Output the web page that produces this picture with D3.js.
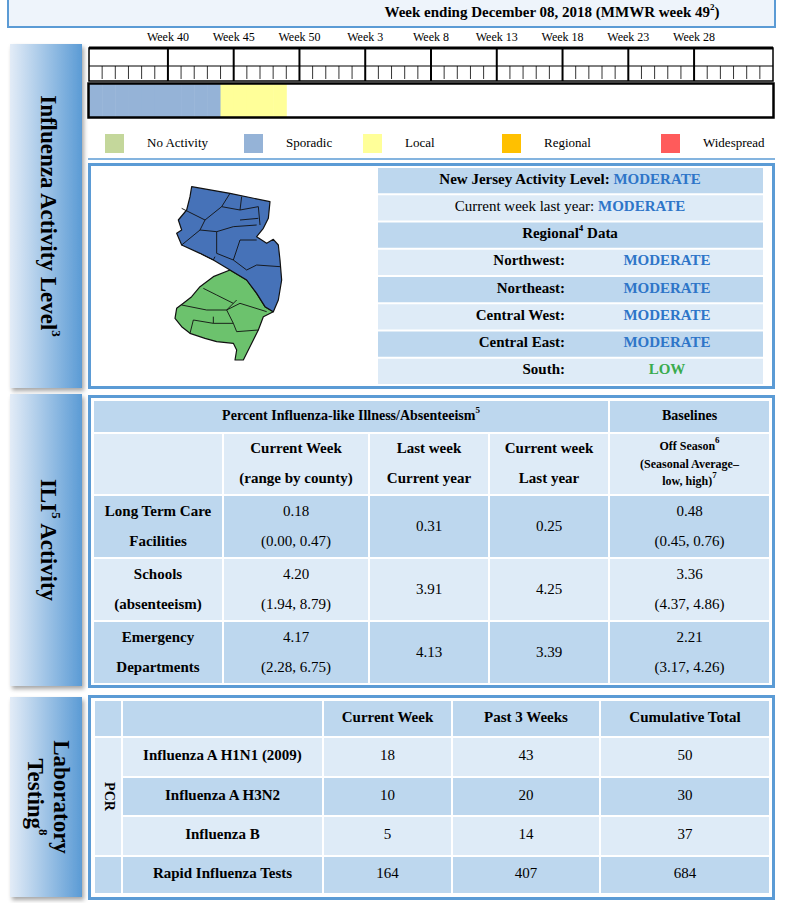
<!DOCTYPE html>
<html><head><meta charset="utf-8">
<script src="https://cdn.jsdelivr.net/npm/d3@7"></script>
<style>body{margin:0;background:#fff}svg{display:block;font-family:"Liberation Serif","Times New Roman",serif}</style>
</head><body>
<script>
// ---- data ----
const weekLabels = ["Week 40","Week 45","Week 50","Week 3","Week 8","Week 13","Week 18","Week 23","Week 28"];
const weekLabelIndex = [6,11,16,21,26,31,36,41,46];
const weeklyActivity = ["Sporadic","Sporadic","Sporadic","Sporadic","Sporadic","Sporadic","Sporadic","Sporadic","Sporadic","Sporadic","Local","Local","Local","Local","Local"];
const activityLevels = ["No Activity","Sporadic","Local","Regional","Widespread"];
const activityColors = ["#c4d79b","#95b3d7","#ffff99","#ffc000","#ff5b5b"];
const regions = ["Northwest:","Northeast:","Central West:","Central East:","South:"];
const regionLevels = ["MODERATE","MODERATE","MODERATE","MODERATE","LOW"];
const iliRows = [["Long Term Care","Facilities"],["Schools","(absenteeism)"],["Emergency","Departments"]];
const iliCurrent = ["0.18","4.20","4.17"];
const iliRange = ["(0.00, 0.47)","(1.94, 8.79)","(2.28, 6.75)"];
const iliLastWeek = ["0.31","3.91","4.13"];
const iliLastYear = ["0.25","4.25","3.39"];
const iliBaseline = ["0.48","3.36","2.21"];
const iliBaseRange = ["(0.45, 0.76)","(4.37, 4.86)","(3.17, 4.26)"];
const labTests = ["Influenza A H1N1 (2009)","Influenza A H3N2","Influenza B","Rapid Influenza Tests"];
const labCurrent = [18,10,5,164];
const labPast3 = [43,20,14,407];
const labCumulative = [50,30,37,684];
// rough map outlines (source pixel space)
const northOutline = [[575,80],[690,100],[810,125],[805,175],[790,205],[770,230],[800,250],[820,238],[835,255],[840,300],[845,360],[835,420],[820,455],[795,440],[770,400],[740,360],[690,330],[640,300],[600,280],[545,255],[530,220],[545,210],[535,180],[560,150],[570,110]];
const southOutline = [[690,330],[740,360],[770,400],[795,440],[820,455],[790,470],[775,510],[760,540],[745,570],[730,600],[705,600],[710,570],[700,550],[650,545],[615,535],[570,520],[545,500],[525,475],[530,445],[550,430],[575,410],[600,380],[640,350]];
const countyLines = [
 [[545,145],[615,180],[600,210],[545,255]],[[615,180],[665,140],[690,100]],[[665,140],[720,150],[725,110]],
 [[600,210],[650,215],[700,200],[770,195]],[[650,215],[650,280],[700,300],[720,240],[770,240]],
 [[720,150],[775,140],[780,195]],[[720,180],[775,175]],[[700,300],[740,330]],[[740,330],[770,315],[840,320]],
 [[600,280],[640,300],[645,290]],
 [[610,385],[650,405],[700,430]],[[545,435],[620,450],[680,450],[710,420]],[[680,450],[720,430],[800,455]],
 [[570,520],[580,480],[640,490],[640,470]],[[700,490],[710,515],[775,510]],[[700,490],[680,450]],[[640,490],[700,490]]
];

const W = 788, H = 903;
const dark = "#bdd7ee", light = "#deebf7", blue = "#5b9bd5", valBlue = "#2e75c8", green = "#3aab4e";
const svg = d3.select("body").append("svg").attr("width", W).attr("height", H);
const defs = svg.append("defs");
const grad = defs.append("linearGradient").attr("id","tab");
grad.append("stop").attr("offset","0%").attr("stop-color","#e3ecf7");
grad.append("stop").attr("offset","100%").attr("stop-color","#5b9bd5");
const sh = defs.append("filter").attr("id","sh").attr("x","-10%").attr("y","-10%").attr("width","130%").attr("height","130%");
sh.append("feDropShadow").attr("dx",2).attr("dy",3).attr("stdDeviation",2).attr("flood-opacity",0.35);

// helper for text with superscript
function txt(g, x, y, parts, opt = {}) {
  const size = opt.size || 15;
  const supSize = opt.supSize || 9, rise = opt.rise || 6;
  const t = g.append("text").attr("x", x).attr("y", y)
    .attr("text-anchor", opt.anchor || "middle").attr("dominant-baseline","middle")
    .style("font-size", size + "px").style("font-weight", opt.bold ? "bold" : "normal");
  let raised = false;
  parts.forEach(p => {
    let s;
    if (typeof p === "string") s = t.append("tspan").text(p);
    else if (p.sup) { s = t.append("tspan").style("font-size", supSize + "px").text(p.sup); s.attr("dy", -rise); raised = true; return; }
    else s = t.append("tspan").attr("fill", p.color).style("font-weight", p.bold ? "bold" : null).text(p.t);
    if (raised) { s.attr("dy", rise); raised = false; }
  });
  return t;
}
function cell(g, x0, y0, x1, y1, fill) {
  g.append("rect").attr("x", x0 + 1).attr("y", y0 + 1).attr("width", x1 - x0 - 2).attr("height", y1 - y0 - 2).attr("fill", fill);
}

// header
svg.append("rect").attr("x",8).attr("y",-2).attr("width",767).attr("height",29).attr("fill","#eef4fb").attr("stroke",blue).attr("stroke-width",2);
txt(svg, 552, 14, ["Week ending December 08, 2018 (MMWR week 49", {sup:"2"}, ")"], {bold:true, size:15});

// side tabs
const tabs = [{y0:44,y1:388,lines:[["Influenza Activity Level",{sup:"3"}]]},
              {y0:394,y1:686,lines:[["ILI",{sup:"5"}," Activity"]]},
              {y0:697,y1:897,lines:[["Laboratory"],["Testing",{sup:"8"}]]}];
tabs.forEach(tb => {
  svg.append("rect").attr("x",10).attr("y",tb.y0).attr("width",72).attr("height",tb.y1-tb.y0).attr("fill","url(#tab)").attr("filter","url(#sh)");
  const cy = (tb.y0 + tb.y1) / 2;
  tb.lines.forEach((ln, i) => {
    const off = (i - (tb.lines.length - 1) / 2) * -26;
    const g = svg.append("g").attr("transform", `translate(${46 + off},${cy}) rotate(90)`);
    txt(g, 0, 0, ln, {bold:true, size:23, supSize:13, rise:9});
  });
});

// timeline
const xw = d3.scaleLinear().domain([0, 52]).range([89, 773]);
const tl = svg.append("g");
tl.selectAll("text.wk").data(weekLabels).join("text").attr("class","wk")
  .attr("x",(d,i)=>xw(weekLabelIndex[i])).attr("y",41).attr("text-anchor","middle").style("font-size","12px").text(d=>d);
tl.append("rect").attr("x",xw(0)).attr("y",48).attr("width",xw(52)-xw(0)).attr("height",33).attr("fill","#fff").attr("stroke","#000").attr("stroke-width",1.5);
tl.append("line").attr("x1",xw(0)).attr("x2",xw(52)).attr("y1",48).attr("y2",48).attr("stroke","#000").attr("stroke-width",3);
tl.append("line").attr("x1",xw(0)).attr("x2",xw(52)).attr("y1",66).attr("y2",66).attr("stroke","#000").attr("stroke-width",1);
tl.selectAll("line.minor").data(d3.range(1,52)).join("line").attr("class","minor")
  .attr("x1",d=>xw(d)).attr("x2",d=>xw(d)).attr("y1",d=>weekLabelIndex.includes(d)?48:66).attr("y2",d=>weekLabelIndex.includes(d)?81:79)
  .attr("stroke","#000").attr("stroke-width",d=>weekLabelIndex.includes(d)?2:0.8);
tl.selectAll("rect.act").data(weeklyActivity).join("rect").attr("class","act")
  .attr("x",(d,i)=>xw(i)).attr("y",84).attr("width",xw(1)-xw(0)+0.5).attr("height",33)
  .attr("fill",d=>activityColors[activityLevels.indexOf(d)]);
tl.append("rect").attr("x",xw(0)-0.5).attr("y",83.5).attr("width",xw(52)-xw(0)+1).attr("height",34).attr("fill","none").attr("stroke","#000").attr("stroke-width",2.5);

// legend
const legX = [105,244,363,502,661];
const leg = svg.append("g");
leg.selectAll("rect").data(activityLevels).join("rect").attr("x",(d,i)=>legX[i]).attr("y",134).attr("width",19).attr("height",19).attr("fill",(d,i)=>activityColors[i]);
leg.selectAll("text").data(activityLevels).join("text").attr("x",(d,i)=>legX[i]+42).attr("y",144).attr("dominant-baseline","middle").style("font-size","13px").text(d=>d);
svg.append("line").attr("x1",88).attr("x2",775).attr("y1",159).attr("y2",159).attr("stroke",blue).attr("stroke-width",1.5);

// panels
[[88,163,687,226],[88,395,687,293],[88,695,687,205]].forEach(p => {
  svg.append("rect").attr("x",p[0]+1.5).attr("y",p[1]+1.5).attr("width",p[2]-3).attr("height",p[3]-3).attr("fill","#fff").attr("stroke",blue).attr("stroke-width",3);
});

// map
const mx = d3.scaleLinear().domain([0,1200]).range([0,400]);
const my = d3.scaleLinear().domain([0,720]).range([160,400]);
const line = d3.line().x(d=>mx(d[0])).y(d=>my(d[1]));
const mapG = svg.append("g").attr("stroke","#111").attr("stroke-width",1.2).attr("stroke-linejoin","round");
mapG.append("path").attr("d", line(southOutline)+"Z").attr("fill","#6cc26d");
mapG.append("path").attr("d", line(northOutline)+"Z").attr("fill","#4672b8");
mapG.selectAll("path.c").data(countyLines).join("path").attr("class","c").attr("d",line).attr("fill","none").attr("stroke-width",0.9);

// activity table
const ay = d3.scaleLinear().domain([0,8]).range([167,385]);
const at = svg.append("g");
d3.range(8).forEach(i => cell(at, 377, ay(i), 764, ay(i+1), i%2===0?dark:light));
const rowC = i => (ay(i)+ay(i+1))/2;
txt(at, 570, rowC(0), ["New Jersey Activity Level: ", {t:"MODERATE", color:valBlue}], {bold:true});
txt(at, 570, rowC(1), ["Current week last year: ", {t:"MODERATE", color:valBlue, bold:true}]);
txt(at, 570, rowC(2), ["Regional", {sup:"4"}, " Data"], {bold:true});
regions.forEach((r,i) => {
  txt(at, 565, rowC(i+3), [r], {bold:true, anchor:"end"});
  txt(at, 667, rowC(i+3), [{t:regionLevels[i], color: regionLevels[i]==="LOW"?green:valBlue}], {bold:true});
});

// ILI table
const ix = [93,223,369,489,609,770];
const iy = [400,433,495,558,621,684];
const it = svg.append("g");
cell(it, ix[0], iy[0], ix[4], iy[1], dark); cell(it, ix[4], iy[0], ix[5], iy[1], dark);
for (let c=0;c<5;c++) cell(it, ix[c], iy[1], ix[c+1], iy[2], light);
for (let r=0;r<3;r++) for (let c=0;c<5;c++) cell(it, ix[c], iy[r+2], ix[c+1], iy[r+3], r%2===0?dark:light);
const mid = (a,i)=>(a[i]+a[i+1])/2;
txt(it, (ix[0]+ix[4])/2, mid(iy,0), ["Percent Influenza-like Illness/Absenteeism", {sup:"5"}], {bold:true, size:14});
txt(it, mid(ix,4), mid(iy,0), ["Baselines"], {bold:true, size:14});
[["Current Week","(range by county)"],["Last week","Current year"],["Current week","Last year"]].forEach((h,c)=>{
  txt(it, mid(ix,c+1), iy[1]+17, [h[0]], {bold:true});
  txt(it, mid(ix,c+1), iy[1]+47, [h[1]], {bold:true});
});
txt(it, mid(ix,4), iy[1]+14, ["Off Season", {sup:"6"}], {bold:true, size:12});
txt(it, mid(ix,4), iy[1]+32, ["(Seasonal Average\u2013"], {bold:true, size:12});
txt(it, mid(ix,4), iy[1]+49, ["low, high)", {sup:"7"}], {bold:true, size:12});
iliRows.forEach((rw,r)=>{
  const y0 = iy[r+2];
  txt(it, mid(ix,0), y0+18, [rw[0]], {bold:true});
  txt(it, mid(ix,0), y0+48, [rw[1]], {bold:true});
  txt(it, mid(ix,1), y0+18, [iliCurrent[r]]);
  txt(it, mid(ix,1), y0+48, [iliRange[r]]);
  txt(it, mid(ix,2), y0+33, [iliLastWeek[r]]);
  txt(it, mid(ix,3), y0+33, [iliLastYear[r]]);
  txt(it, mid(ix,4), y0+18, [iliBaseline[r]]);
  txt(it, mid(ix,4), y0+48, [iliBaseRange[r]]);
});

// lab table
const lx = [94,122,323,452,600,770];
const ly = [700,737,777,816,856,894];
const lt = svg.append("g");
for (let r=0;r<5;r++) for (let c=1;c<5;c++) cell(lt, lx[c], ly[r], lx[c+1], ly[r+1], r%2===0?dark:light);
cell(lt, lx[0], ly[0], lx[1], ly[1], dark);
cell(lt, lx[0], ly[1], lx[1], ly[4], light);
cell(lt, lx[0], ly[4], lx[1], ly[5], dark);
["Current Week","Past 3 Weeks","Cumulative Total"].forEach((h,c)=>txt(lt, mid(lx,c+2), mid(ly,0), [h], {bold:true}));
const pg = lt.append("g").attr("transform", `translate(${mid(lx,0)},${(ly[1]+ly[4])/2}) rotate(90)`);
txt(pg, 0, 0, ["PCR"], {bold:true, size:14});
labTests.forEach((t,r)=>{
  const y = mid(ly, r+1);
  txt(lt, mid(lx,1), y, [t], {bold:true});
  txt(lt, mid(lx,2), y, [String(labCurrent[r])]);
  txt(lt, mid(lx,3), y, [String(labPast3[r])]);
  txt(lt, mid(lx,4), y, [String(labCumulative[r])]);
});
</script>
</body></html>
